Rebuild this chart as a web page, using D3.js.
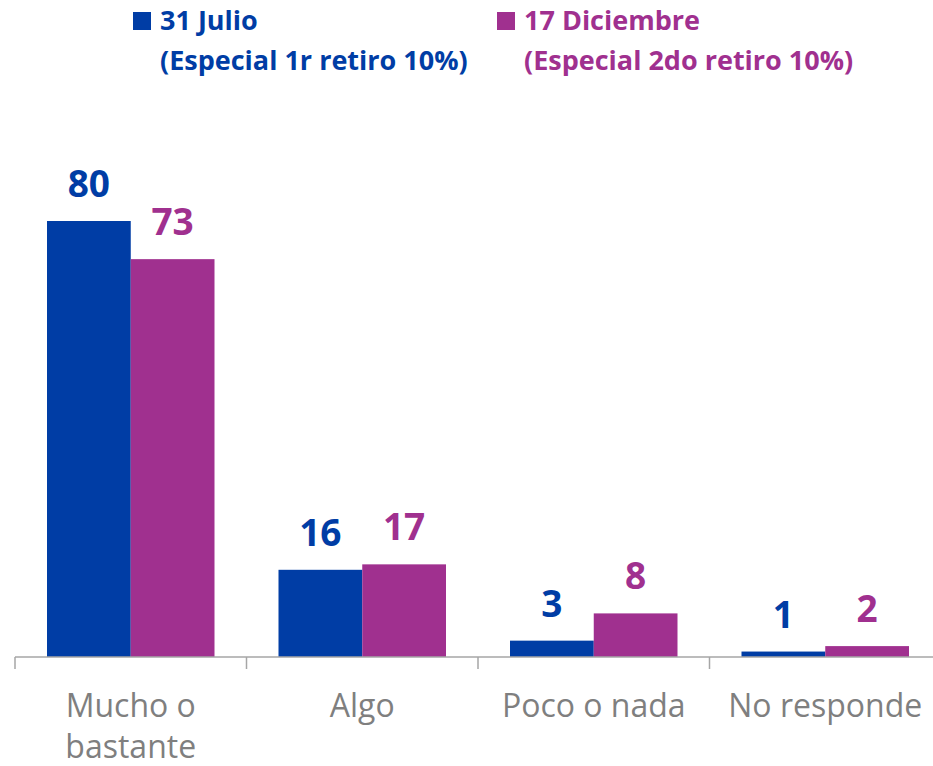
<!DOCTYPE html>
<html><head><meta charset="utf-8">
<script src="https://cdn.jsdelivr.net/npm/d3@7"></script>
<style>body{margin:0;background:#fff}svg{display:block}</style>
</head><body>
<script>
const categories = [["Mucho o","bastante"],["Algo"],["Poco o nada"],["No responde"]];
const seriesNames = ["31 Julio","17 Diciembre"];
const seriesSub = ["(Especial 1r retiro 10%)","(Especial 2do retiro 10%)"];
const julio = [80,16,3,1];
const diciembre = [73,17,8,2];
const colors = ["#003DA5","#A0308F"];

const W=933,H=766;
const svg=d3.select("body").append("svg").attr("width",W).attr("height",H);
const font="'Open Sans', sans-serif";
const x0=d3.scaleBand().domain(d3.range(categories.length)).range([15,941]).paddingInner(0).paddingOuter(0);
const x1=d3.scaleBand().domain([0,1]).range([32,x0.bandwidth()-32]).paddingInner(0).paddingOuter(0);
const y=d3.scaleLinear().domain([0,80]).range([657,221]);

const series=[julio,diciembre];
series.forEach((vals,s)=>{
  svg.append("g").selectAll("rect").data(vals).join("rect")
    .attr("x",(d,i)=>x0(i)+x1(s)).attr("width",x1.bandwidth())
    .attr("y",d=>y(d)).attr("height",d=>y(0)-y(d)).attr("fill",colors[s]);
  svg.append("g").selectAll("text").data(vals).join("text")
    .attr("x",(d,i)=>x0(i)+x1(s)+x1.bandwidth()/2).attr("y",d=>y(d)-24)
    .attr("text-anchor","middle").attr("font-family",font).attr("font-weight","bold")
    .attr("font-size",37).attr("fill",colors[s]).text(d=>d);
});

const ag=svg.append("g").attr("transform","translate(0,657)");
ag.append("line").attr("x1",15).attr("x2",941).attr("stroke","#a6a6a6").attr("stroke-width",1.5);
const bounds=d3.range(categories.length+1).map(i=>15+i*x0.step());
ag.selectAll("line.b").data(bounds).join("line").attr("class","b")
  .attr("x1",d=>d).attr("x2",d=>d).attr("y1",0).attr("y2",12).attr("stroke","#a6a6a6").attr("stroke-width",1.5);

categories.forEach((lines,i)=>{
  const t=svg.append("text").attr("text-anchor","middle").attr("font-family",font)
    .attr("font-size",32).attr("fill","#7f7f7f");
  lines.forEach((l,j)=>t.append("tspan").attr("x",x0(i)+x0.bandwidth()/2).attr("y",717+j*41).text(l));
});

const legX=[133,497];
seriesNames.forEach((n,s)=>{
  svg.append("rect").attr("x",legX[s]).attr("y",12).attr("width",18).attr("height",18).attr("fill",colors[s]);
  svg.append("text").attr("x",legX[s]+27).attr("y",30).attr("font-family",font).attr("font-weight","bold")
    .attr("font-size",27).attr("fill",colors[s]).text(n);
  svg.append("text").attr("x",legX[s]+27).attr("y",70).attr("font-family",font).attr("font-weight","bold")
    .attr("font-size",27).attr("fill",colors[s]).text(seriesSub[s]);
});
</script>
</body></html>
